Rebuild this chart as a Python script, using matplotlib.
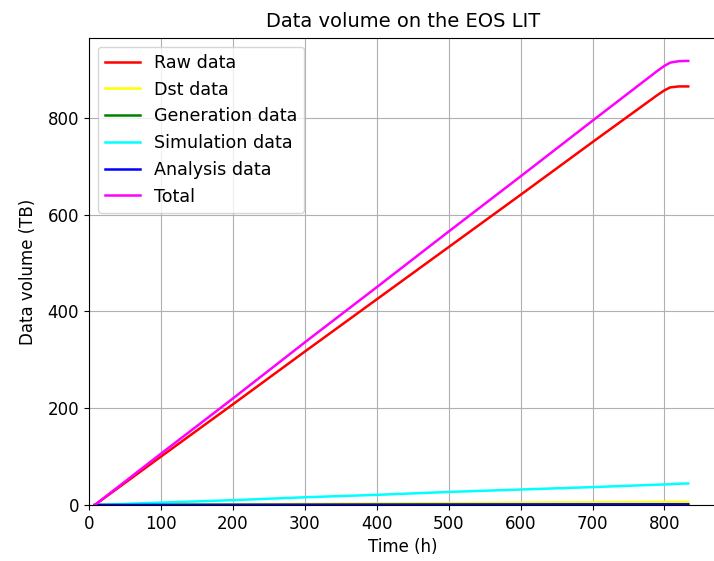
import numpy as np
import matplotlib
matplotlib.use('Agg')
import matplotlib.pyplot as plt

# tempo (ore)
time_h = [8, 100, 200, 300, 400, 500, 600, 700, 790, 800, 808, 820, 833]
# volumi (TB)
raw_data = [0, 100, 208, 317, 425, 533, 641, 750, 847, 857, 863, 865, 865]
dst_data = [0, 0.8, 1.6, 2.4, 3.2, 4.0, 4.8, 5.6, 6.3, 6.4, 6.5, 6.5, 6.5]
gen_data = [0, 0.02, 0.05, 0.07, 0.1, 0.12, 0.15, 0.17, 0.2, 0.2, 0.2, 0.2, 0.2]
sim_data = [0, 5, 10, 16, 21, 27, 32, 37, 42, 42.5, 43, 44, 44.5]
ana_data = [0, 0.2, 0.4, 0.6, 0.8, 1.0, 1.2, 1.4, 1.5, 1.5, 1.5, 1.5, 1.5]
total = list(np.array(raw_data) + np.array(dst_data) + np.array(gen_data)
             + np.array(sim_data) + np.array(ana_data))

fig = plt.figure(figsize=(7.14, 5.61), dpi=100)
ax = fig.add_axes([0.1246, 0.0998, 0.8796, 0.8324])

ax.plot(time_h, raw_data, color='red', label='Raw data', lw=1.8)
ax.plot(time_h, dst_data, color='yellow', label='Dst data', lw=1.8)
ax.plot(time_h, gen_data, color='green', label='Generation data', lw=1.8)
ax.plot(time_h, sim_data, color='cyan', label='Simulation data', lw=1.8)
ax.plot(time_h, ana_data, color='blue', label='Analysis data', lw=1.8)
ax.plot(time_h, total, color='magenta', label='Total', lw=1.8)

ax.set_xlim(0, 873)
ax.set_ylim(0, 965)
ax.set_xticks([0, 100, 200, 300, 400, 500, 600, 700, 800])
ax.set_yticks([0, 200, 400, 600, 800])
ax.tick_params(labelsize=12)
ax.grid(True)
ax.set_xlabel('Time (h)', fontsize=12)
ax.set_ylabel('Data volume (TB)', fontsize=12, labelpad=8)
ax.set_title('Data volume on the EOS LIT', fontsize=14, pad=8)
ax.legend(loc='upper left', fontsize=12.6, handlelength=2.0)

fig.savefig('out.png', dpi=100)
